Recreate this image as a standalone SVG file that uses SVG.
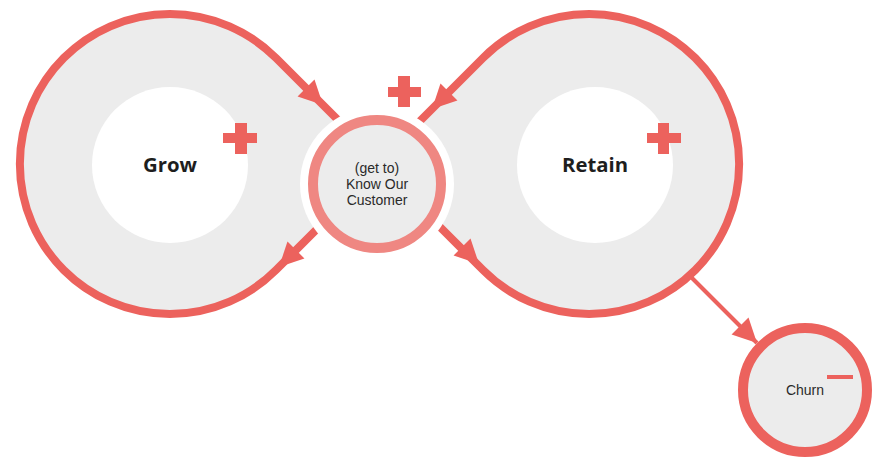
<svg xmlns="http://www.w3.org/2000/svg" width="872" height="459" viewBox="0 0 872 459">
<style>
.fill{fill:#ececec}
.hole{fill:#ffffff}
.loop{fill:none;stroke:#ec625d;stroke-width:8;stroke-linejoin:round}
.tip{fill:none;stroke:none}
.thin{fill:none;stroke:#ec625d;stroke-width:4}
.plus{fill:#ec625d}
.big{font-family:"Open Sans","Liberation Sans",sans-serif;font-weight:700;font-size:19px;fill:#1e1e1e;text-anchor:middle}
.small{font-family:"Liberation Sans",Arial,sans-serif;font-size:14px;fill:#2a2a2a;text-anchor:middle}
</style>
<defs>
<marker id="arr" markerUnits="userSpaceOnUse" markerWidth="26" markerHeight="26" refX="24" refY="12" orient="auto" overflow="visible">
<path d="M0,0 L24,12 L0,24 Z" fill="#ec625d"/>
</marker>
</defs>
<rect width="872" height="459" fill="#ffffff"/>
<g id="grow">
<path class="fill" d="M377,184 L345,127 L276,58 A150 150 0 1 0 276,270 L320,226 Z"/>
<circle class="hole" cx="170" cy="165" r="78"/>
<text class="big" x="170" y="172" textLength="54" lengthAdjust="spacingAndGlyphs">Grow</text>
<path class="plus" d="M235,123 h12 v10 h10 v10 h-10 v11 h-12 v-11 h-12 v-10 h12 Z"/>
</g>
<g id="retain">
<path class="fill" d="M377,184 L412,129 L483,58 A150 150 0 1 1 483,270 L434,221 Z"/>
<circle class="hole" cx="595" cy="165" r="78"/>
<text class="big" x="595" y="172" textLength="66" lengthAdjust="spacingAndGlyphs">Retain</text>
<path class="plus" d="M658,123 h11 v10 h12 v10 h-12 v11 h-11 v-11 h-11 v-10 h11 Z"/>
</g>
<g id="connectors">
<path class="loop" d="M324,222 L276,270 A150 150 0 1 1 276,58 L345,127"/>
<path class="tip" d="M300,82 L323,105" marker-end="url(#arr)"/>
<path class="tip" d="M300,246 L279,267" marker-end="url(#arr)"/>
<path class="loop" d="M430,217 L483,270 A150 150 0 1 0 483,58 L412,129"/>
<path class="tip" d="M455,86 L432,109" marker-end="url(#arr)"/>
<path class="tip" d="M458,243 L479,264" marker-end="url(#arr)"/>
<path class="thin" d="M690,276 L757,343" marker-end="url(#arr)"/>
</g>
<g id="know-customer">
<circle cx="377" cy="184" r="77" fill="#ffffff"/>
<circle cx="377" cy="184" r="64" fill="#ececec" stroke="#ef8782" stroke-width="10"/>
<text class="small" x="377" y="173">(get to)</text>
<text class="small" x="377" y="189">Know Our</text>
<text class="small" x="377" y="205">Customer</text>
<path class="plus" d="M398,76 h12 v11 h11 v10 h-11 v10 h-12 v-10 h-10 v-10 h10 Z"/>
</g>
<g id="churn">
<circle cx="805" cy="390" r="62" fill="#ececec" stroke="#ec625d" stroke-width="10"/>
<text class="small" x="805" y="395">Churn</text>
<rect x="827" y="375" width="26" height="4" fill="#ec625d"/>
</g>
</svg>
